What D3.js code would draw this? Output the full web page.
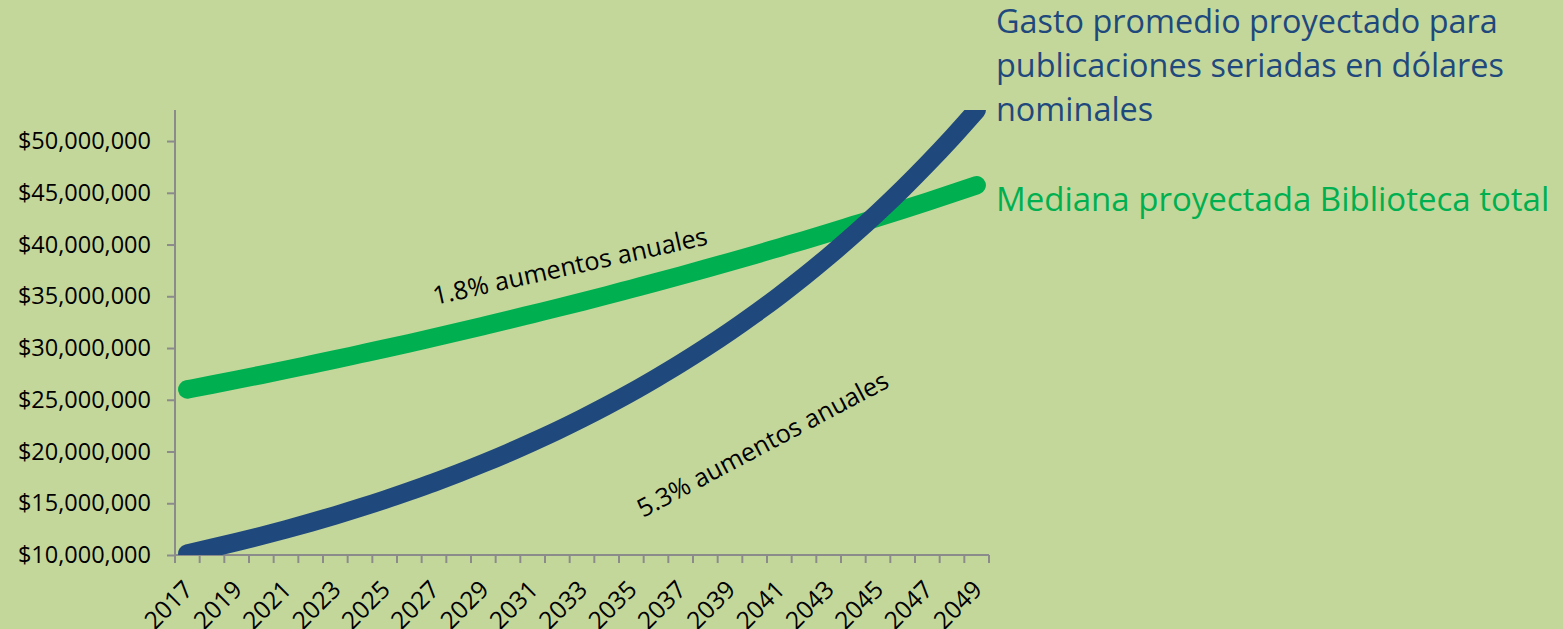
<!DOCTYPE html>
<html>
<head>
<meta charset="utf-8">
<script src="https://cdn.jsdelivr.net/npm/d3@7"></script>
<style>
  html, body { margin: 0; padding: 0; background: #C4D79B; }
  svg { display: block; }
</style>
</head>
<body>
<svg id="chart" width="1563" height="629"></svg>
<script>
// ---- data ----
const years = [2017,2018,2019,2020,2021,2022,2023,2024,2025,2026,2027,2028,2029,2030,2031,2032,2033,
               2034,2035,2036,2037,2038,2039,2040,2041,2042,2043,2044,2045,2046,2047,2048,2049];
// Projected average serials spend, nominal dollars (5.3% annual increases), millions
const serialsSpend = [10.15,10.69,11.25,11.85,12.48,13.14,13.84,14.57,15.34,16.16,17.01,17.91,18.86,
                      19.86,20.92,22.02,23.19,24.42,25.71,27.08,28.51,30.02,31.61,33.29,35.05,36.91,
                      38.87,40.93,43.10,45.38,47.79,50.32,52.99].map(v => v * 1e6);
// Projected median total library (1.8% annual increases), millions
const libraryMedian = [26.00,26.46,26.93,27.41,27.90,28.40,28.90,29.42,29.94,30.47,31.02,31.57,32.13,
                       32.70,33.29,33.88,34.48,35.09,35.72,36.35,37.00,37.66,38.33,39.01,39.71,40.41,
                       41.13,41.87,42.61,43.37,44.14,44.93,45.73].map(v => v * 1e6);
const yTicks = [10e6,15e6,20e6,25e6,30e6,35e6,40e6,45e6,50e6];
const xLabelYears = [2017,2019,2021,2023,2025,2027,2029,2031,2033,2035,2037,2039,2041,2043,2045,2047,2049];
const legendSerials = ["Gasto promedio proyectado para", "publicaciones seriadas en dólares", "nominales"];
const legendLibrary = "Mediana proyectada Biblioteca total";
const noteLibrary = "1.8% aumentos anuales";
const noteSerials = "5.3% aumentos anuales";

// ---- layout ----
const FONT = "'Open Sans', 'Noto Sans', sans-serif";
const pLeft = 175, pRight = 989, pTop = 110, pBottom = 555;
const BLUE = "#1F497D", GREEN = "#00B050", AXIS = "#8B8B8B";

const svg = d3.select("#chart");
svg.append("rect").attr("width", 1563).attr("height", 629).attr("fill", "#C4D79B");

const xBand = d3.scaleBand().domain(years).range([pLeft, pRight]).padding(0);
const x = d3.scalePoint().domain(years).range([pLeft, pRight]).padding(0.5);
const y = d3.scaleLinear().domain([10e6, 53e6]).range([pBottom, pTop]);

// clip
svg.append("clipPath").attr("id", "plotclip")
  .append("rect").attr("x", pLeft).attr("y", pTop).attr("width", pRight - pLeft).attr("height", pBottom - pTop);

// y axis
const yAxis = svg.append("g").attr("transform", `translate(${pLeft},0)`)
  .call(d3.axisLeft(y).tickValues(yTicks).tickSize(8).tickPadding(16).tickFormat(d3.format("$,")));
yAxis.select(".domain").attr("stroke", AXIS).attr("stroke-width", 2)
  .attr("d", `M0,${pTop}V${pBottom}`);
yAxis.selectAll(".tick line").attr("stroke", AXIS).attr("stroke-width", 2);
yAxis.selectAll(".tick text").attr("font-family", FONT).attr("font-size", 23.5).attr("fill", "#000");

// x axis (ticks between categories)
const xg = svg.append("g");
xg.append("line").attr("x1", pLeft).attr("x2", pRight).attr("y1", pBottom).attr("y2", pBottom)
  .attr("stroke", AXIS).attr("stroke-width", 2);
const bounds = years.map(d => xBand(d)).concat([xBand(years[years.length - 1]) + xBand.bandwidth()]);
xg.selectAll("line.tk").data(bounds).join("line").attr("class", "tk")
  .attr("x1", d => d).attr("x2", d => d).attr("y1", pBottom).attr("y2", pBottom + 8)
  .attr("stroke", AXIS).attr("stroke-width", 2);
xg.selectAll("text").data(xLabelYears).join("text")
  .attr("transform", d => `translate(${x(d) + 7},${pBottom + 36}) rotate(-45)`)
  .attr("text-anchor", "end")
  .attr("font-family", FONT).attr("font-size", 24.5).attr("fill", "#000")
  .text(d => d);

// lines
const line = d3.line().x((d, i) => x(years[i])).y(d => y(d)).curve(d3.curveMonotoneX);
const plot = svg.append("g").attr("clip-path", "url(#plotclip)");
plot.append("path").datum(libraryMedian).attr("d", line)
  .attr("fill", "none").attr("stroke", GREEN).attr("stroke-width", 18.5)
  .attr("stroke-linecap", "round").attr("stroke-linejoin", "round");
plot.append("path").datum(serialsSpend).attr("d", line)
  .attr("fill", "none").attr("stroke", BLUE).attr("stroke-width", 18.5)
  .attr("stroke-linecap", "round").attr("stroke-linejoin", "round");

// annotations
svg.append("text").attr("transform", "translate(435,305) rotate(-12.5)")
  .attr("font-family", FONT).attr("font-size", 25.3).attr("fill", "#000").text(noteLibrary);
svg.append("text").attr("transform", "translate(643,518) rotate(-28)")
  .attr("font-family", FONT).attr("font-size", 25.3).attr("fill", "#000").text(noteSerials);

// legend labels
svg.append("text").attr("font-family", FONT).attr("font-size", 32.4).attr("fill", BLUE)
  .selectAll("tspan").data(legendSerials).join("tspan")
  .attr("x", 996).attr("y", (d, i) => 33 + i * 44).text(d => d);
svg.append("text").attr("x", 996).attr("y", 211)
  .attr("font-family", FONT).attr("font-size", 33).attr("fill", GREEN).text(legendLibrary);
</script>
</body>
</html>
